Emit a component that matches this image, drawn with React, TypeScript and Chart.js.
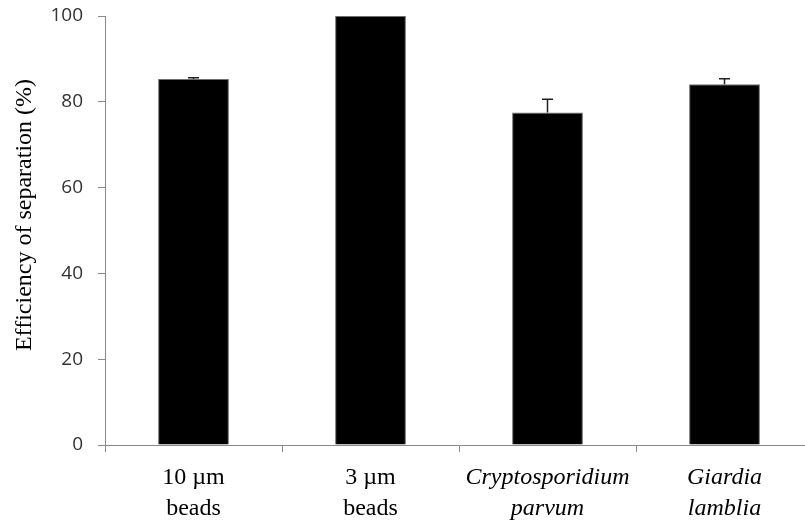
import React, { useEffect, useRef } from "react";
import { Chart, registerables } from "chart.js";

Chart.register(...registerables);

const categories: string[][] = [
  ["10 µm", "beads"],
  ["3 µm", "beads"],
  ["Cryptosporidium", "parvum"],
  ["Giardia", "lamblia"],
];
const efficiency = [85.3, 100, 77.5, 84.1];
const errorUp = [0.3, 0, 3.1, 1.3];
const italicLabel = [false, false, true, true];
const yMin = 0;
const yMax = 100;
const yStep = 20;
const yTitle = "Efficiency of separation (%)";

const AXIS = "#898989";

export default function App() {
  const ref = useRef<HTMLCanvasElement | null>(null);

  useEffect(() => {
    if (!ref.current) return;

    const errorPlugin = {
      id: "errorBars",
      afterDatasetsDraw(chart: any) {
        const meta = chart.getDatasetMeta(0);
        const y = chart.scales.y;
        const ctx = chart.ctx;
        ctx.save();
        ctx.strokeStyle = "#222222";
        ctx.lineWidth = 1.5;
        meta.data.forEach((bar: any, i: number) => {
          const e = errorUp[i];
          if (!e) return;
          const x = bar.x;
          const y0 = y.getPixelForValue(efficiency[i]);
          const y1 = y.getPixelForValue(efficiency[i] + e);
          ctx.beginPath();
          ctx.moveTo(x, y0);
          ctx.lineTo(x, y1);
          ctx.moveTo(x - 5.5, y1);
          ctx.lineTo(x + 5.5, y1);
          ctx.stroke();
        });
        ctx.restore();
      },
    };

    const titlePlugin = {
      id: "yTitle",
      afterDraw(chart: any) {
        const ctx = chart.ctx;
        const area = chart.chartArea;
        ctx.save();
        ctx.translate(25, 215);
        ctx.rotate(-Math.PI / 2);
        ctx.textAlign = "center";
        ctx.textBaseline = "middle";
        ctx.fillStyle = "#000";
        ctx.font = '24px "Liberation Serif", "Times New Roman", serif';
        ctx.fillText(yTitle, 0, 0);
        ctx.restore();
      },
    };

    const chart = new Chart(ref.current, {
      type: "bar",
      data: {
        labels: categories,
        datasets: [
          {
            data: efficiency,
            backgroundColor: "#000000",
            borderColor: "#6e6e6e",
            borderWidth: 1,
            categoryPercentage: 1,
            barPercentage: 0.4,
          },
        ],
      },
      options: {
        responsive: false,
        animation: false,
        layout: { padding: { top: 16, right: 0, bottom: 0, left: 0 } },
        plugins: {
          legend: { display: false },
          tooltip: { enabled: false },
        },
        scales: {
          x: {
            offset: true,
            border: { display: true, color: AXIS, width: 1 },
            grid: {
              offset: true,
              drawOnChartArea: false,
              drawTicks: true,
              tickLength: 7,
              color: AXIS,
            },
            ticks: {
              autoSkip: false,
              maxRotation: 0,
              minRotation: 0,
              padding: 10,
              color: "#000",
              font: (c: any) => ({
                family: '"Liberation Serif", "Times New Roman", serif',
                size: 24,
                style: italicLabel[c.index] ? "italic" : "normal",
                lineHeight: 1.29,
              }),
            },
            afterFit(scale: any) {
              scale.height = 85;
              scale.paddingLeft = 0;
              scale.paddingRight = 0;
            },
          },
          y: {
            min: yMin,
            max: yMax,
            border: { display: true, color: AXIS, width: 1 },
            grid: {
              drawOnChartArea: false,
              drawTicks: true,
              tickLength: 7,
              color: AXIS,
            },
            ticks: {
              stepSize: yStep,
              padding: 15,
              color: "#333333",
              font: { family: '"Open Sans", sans-serif', size: 19 },
            },
            afterFit(scale: any) {
              scale.width = 105;
              scale.paddingTop = 0;
              scale.paddingBottom = 0;
            },
          },
        },
      },
      plugins: [errorPlugin, titlePlugin],
    });

    return () => chart.destroy();
  }, []);

  return (
    <div
      style={{
        position: "fixed",
        left: 0,
        top: 0,
        width: 805,
        height: 530,
        overflow: "hidden",
        background: "#fff",
      }}
    >
      <canvas ref={ref} width={813} height={530} style={{ display: "block" }} />
    </div>
  );
}
